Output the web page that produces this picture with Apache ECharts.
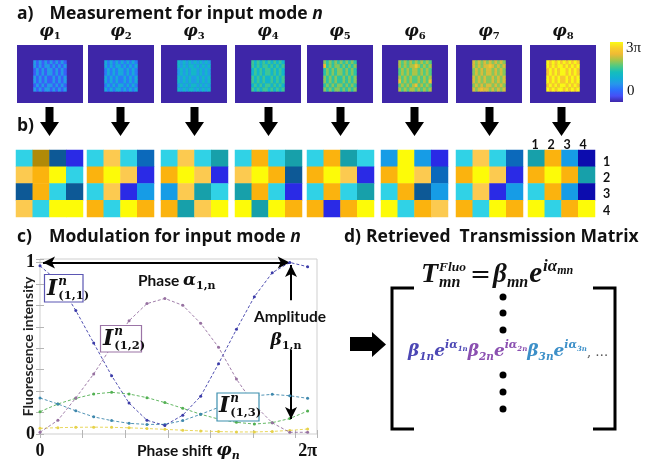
<!DOCTYPE html>
<html>
<head>
<meta charset="utf-8">
<script src="https://cdn.jsdelivr.net/npm/echarts@6/dist/echarts.min.js"></script>
<style>
  html, body { margin: 0; padding: 0; background: #fff; }
  #chart { width: 670px; height: 461px; }
</style>
</head>
<body>
<div id="chart"></div>
<script>
// ---------------- data ----------------
// a) SLM pattern for each phase step (levels in units of π, colour range 0..3π)
const phaseSteps = ['1', '2', '3', '4', '5', '6', '7', '8'];
const stripeLow  = [0.45, 0.70, 0.98, 1.30, 1.62, 1.80, 1.98, 2.60];
const stripeHigh = [0.95, 1.12, 1.35, 1.70, 1.98, 2.12, 2.30, 2.98];
const stripeMask = [
  '101010101010',
  '101011010101',
  '010101101010',
  '010101101010',
  '101010010101',
  '101010010101',
  '010101101010',
  '101011010101'
];
// bright spots: [step, column, row, level]
const patternSpots = [[4, 0, 1, 2.45], [5, 6, 1, 2.55], [5, 0, 5, 2.5], [5, 11, 5, 2.5], [5, 6, 6, 2.45], [6, 6, 1, 2.55], [6, 3, 7, 2.45]];

// b) retrieved 4x4 speckle frames (colour level per cell, row by row)
const speckleFrames = [
  [[6, 7, 2, 1], [8, 9, 10, 6], [2, 9, 6, 2], [8, 6, 10, 10]],
  [[6, 8, 6, 3], [9, 10, 8, 1], [6, 8, 1, 4], [9, 6, 10, 9]],
  [[6, 8, 6, 5], [9, 10, 8, 1], [4, 8, 5, 6], [9, 5, 8, 10]],
  [[6, 9, 6, 5], [8, 10, 9, 2], [5, 9, 6, 1], [10, 5, 10, 9]],
  [[6, 9, 5, 6], [9, 10, 8, 1], [6, 9, 6, 5], [9, 1, 9, 10]],
  [[4, 10, 4, 1], [9, 10, 8, 3], [6, 9, 2, 4], [10, 6, 9, 8]],
  [[6, 8, 6, 3], [9, 10, 8, 1], [6, 8, 1, 4], [9, 6, 10, 9]],
  [[5, 9, 4, 0], [9, 10, 9, 5], [6, 9, 4, 0], [10, 6, 9, 10]]
];
const speckleIndex = ['1', '2', '3', '4'];

// c) fluorescence intensity vs. phase shift
const phaseShift = [0, 0.42, 0.84, 1.26, 1.68, 2.09, 2.51, 2.93, 3.35, 3.77, 4.19, 4.61, 5.03, 5.45, 5.86, 6.28];
const intensity11 = [0.98, 0.89, 0.72, 0.53, 0.34, 0.18, 0.08, 0.05, 0.11, 0.22, 0.41, 0.61, 0.80, 0.94, 1.00, 0.975];
const intensity12 = [0.01, 0.08, 0.21, 0.35, 0.51, 0.66, 0.76, 0.79, 0.75, 0.645, 0.505, 0.32, 0.17, 0.065, 0.01, 0.01];
const intensity13 = [0.21, 0.175, 0.135, 0.10, 0.078, 0.062, 0.056, 0.056, 0.078, 0.115, 0.155, 0.198, 0.223, 0.231, 0.223, 0.208];
const intensity14 = [0.13, 0.175, 0.208, 0.233, 0.243, 0.233, 0.212, 0.183, 0.15, 0.115, 0.087, 0.068, 0.058, 0.066, 0.09, 0.134];
const intensity15 = [0.033, 0.037, 0.039, 0.040, 0.039, 0.036, 0.032, 0.027, 0.022, 0.018, 0.014, 0.012, 0.012, 0.015, 0.021, 0.029];

// ---------------- styles ----------------
const SANS = 'Lato, "Open Sans", sans-serif';
const HEAD = '"Open Sans", Lato, sans-serif';
const SERIF = '"DejaVu Serif", "Liberation Serif", serif';
const TSERIF = '"Liberation Serif", serif';
const parula = ['#3e26a8', '#4650f5', '#2c6ffd', '#2796eb', '#12b0d4', '#15bebb', '#51ca82', '#a7c548', '#efba35', '#f9cf2a', '#f9fb15'];
const speckleColors = ['#0c0cae', '#2a2ae6', '#0d5996', '#0b69bb', '#169ce6', '#17a0aa', '#30d2e6', '#b08a08', '#fcca50', '#fbb30e', '#fdfb08'];
const curveColors = ['#3b3ba8', '#9670a0', '#3f88ad', '#52b052', '#e6d24a'];

const boxLeft = [17, 88, 161, 235, 307, 382, 456, 530];
const frameLeft = [16, 87, 161, 235, 307, 381, 456, 528];

// ---------------- text layout helper ----------------
const ctx2d = document.createElement('canvas').getContext('2d');
function fontOf(t) {
  return (t.italic ? 'italic ' : '') + (t.weight || 'bold') + ' ' + t.size + 'px ' + (t.family || SERIF);
}
function typeset(x, base, tokens, align) {
  let cx = 0, gStart = 0, gW = 0;
  const placed = [];
  tokens.forEach(t => {
    ctx2d.font = fontOf(t);
    const w = ctx2d.measureText(t.text).width;
    let px;
    if (t.stack) { px = gStart; gW = Math.max(gW, w); cx = gStart + gW; }
    else { cx += (t.kern || 0); px = cx; gStart = cx; gW = w; cx += w; }
    placed.push({ t, px });
  });
  const x0 = align === 'center' ? x - cx / 2 : (align === 'right' ? x - cx : x);
  return placed.map(({ t, px }) => ({
    type: 'text', silent: true, z: 100,
    x: x0 + px, y: base - (t.rise || 0) - 0.33 * t.size,
    style: {
      text: t.text, font: fontOf(t), fill: t.color || '#111',
      textAlign: 'left', textVerticalAlign: 'middle', align: 'left', verticalAlign: 'middle'
    }
  }));
}

// ---------------- build grids / axes / series ----------------
const grids = [], xAxes = [], yAxes = [], series = [];
const hiddenCat = (n, gi, extra) => Object.assign({
  type: 'category', gridIndex: gi, show: false,
  data: Array.from({ length: n }, (_, i) => String(i))
}, extra || {});

// a) phase patterns
phaseSteps.forEach((s, k) => {
  grids.push({ left: boxLeft[k], top: 45, width: 66, height: 58, show: true, backgroundColor: parula[0], borderWidth: 0 });
  xAxes.push(hiddenCat(24, k));
  yAxes.push(hiddenCat(15, k, { inverse: true }));
  const cells = [];
  stripeMask.forEach((row, r) => {
    row.split('').forEach((m, c) => cells.push([c + 6, r + 4, m === '1' ? stripeHigh[k] : stripeLow[k]]));
  });
  patternSpots.filter(p => p[0] === k).forEach(([, c, r, v]) => {
    const cell = cells.find(e => e[0] === c + 6 && e[1] === r + 4);
    if (cell) cell[2] = v;
  });
  series.push({ type: 'heatmap', xAxisIndex: k, yAxisIndex: k, data: cells, silent: true, progressive: 0 });
});

// b) speckle frames
speckleFrames.forEach((frame, k) => {
  const gi = 8 + k;
  grids.push({ left: frameLeft[k], top: 150, width: 67, height: 67 });
  xAxes.push(Object.assign(hiddenCat(4, gi), { data: speckleIndex }));
  yAxes.push(Object.assign(hiddenCat(4, gi, { inverse: true }), { data: speckleIndex }));
  const cells = [];
  frame.forEach((row, r) => row.forEach((v, c) => cells.push([c, r, v])));
  series.push({ type: 'heatmap', xAxisIndex: gi, yAxisIndex: gi, data: cells, silent: true, progressive: 0 });
});

// c) modulation curves
const GC = 16;
grids.push({ left: 40, top: 259, width: 277, height: 175, show: true, borderColor: '#cfcfcf', borderWidth: 1, backgroundColor: '#fff' });
const tickStyle = { show: true, inside: true, length: 4, lineStyle: { color: '#b5b5b5', width: 1 } };
xAxes.push({
  type: 'value', gridIndex: GC, min: 0, max: 6.5, interval: 1,
  axisLine: { show: false }, splitLine: { show: false }, axisTick: tickStyle,
  axisLabel: {
    customValues: [0, 6.2832], margin: 8,
    formatter: v => (v < 0.01 ? '0' : '2π'),
    color: '#111', fontFamily: TSERIF, fontWeight: 'bold', fontSize: 18
  }
});
xAxes.push({
  type: 'value', gridIndex: GC, position: 'top', min: 0, max: 6.5, interval: 1,
  axisLine: { show: false }, splitLine: { show: false }, axisTick: tickStyle, axisLabel: { show: false }
});
yAxes.push({
  type: 'value', gridIndex: GC, min: 0, max: 1.02, interval: 0.125,
  axisLine: { show: false }, splitLine: { show: false }, axisTick: tickStyle,
  axisLabel: {
    margin: 5, color: '#111', fontFamily: TSERIF, fontWeight: 'bold', fontSize: 18,
    formatter: v => (Math.abs(v) < 1e-6 ? '0' : (Math.abs(v - 1) < 1e-6 ? '1' : ''))
  },
  name: 'Fluorescence intensity', nameLocation: 'middle', nameGap: 5, nameRotate: 90, nameMoveOverlap: false,
  nameTextStyle: { fontFamily: SANS, fontWeight: 'bold', fontSize: 14, color: '#222' }
});
yAxes.push({
  type: 'value', gridIndex: GC, position: 'right', min: 0, max: 1.02, interval: 0.125,
  axisLine: { show: false }, splitLine: { show: false }, axisTick: tickStyle, axisLabel: { show: false }
});

const curves = [intensity15, intensity14, intensity13, intensity12, intensity11];
const curveColorOrder = [curveColors[4], curveColors[3], curveColors[2], curveColors[1], curveColors[0]];
const peakIdx = intensity11.indexOf(Math.max(...intensity11));
curves.forEach((vals, i) => {
  const s = {
    type: 'line', xAxisIndex: GC, yAxisIndex: GC, silent: true, z: 3 + i,
    data: phaseShift.map((p, k) => [p, vals[k]]),
    symbol: 'circle', symbolSize: 3, showSymbol: true,
    lineStyle: { width: 0.9, type: [3, 2], color: curveColorOrder[i] },
    itemStyle: { color: curveColorOrder[i] }
  };
  if (i === curves.length - 1) {
    s.markLine = {
      silent: true, animation: false, symbol: ['none', 'none'], symbolSize: [9, 12],
      label: { show: false }, emphasis: { disabled: true },
      lineStyle: { color: '#000', width: 2, type: 'solid' },
      data: [
        [{ coord: [0.07, 1.0], symbol: 'arrow' }, { coord: [phaseShift[peakIdx], 1.0], symbol: 'arrow' }],
        [{ coord: [5.89, 0.78], symbol: 'none' }, { coord: [5.89, 0.985], symbol: 'arrow' }],
        [{ coord: [5.89, 0.49], symbol: 'none' }, { coord: [5.89, 0.088], symbol: 'arrow' }]
      ]
    };
  }
  series.push(s);
});

// ---------------- annotations ----------------
const g = [];
const TS = 17.5;
// panel titles
g.push(...typeset(17, 20, [
  { text: 'a)', size: TS, family: HEAD },
  { text: 'Measurement for input mode ', size: TS, family: HEAD, kern: 16 },
  { text: 'n', size: TS, family: HEAD, italic: true }
]));
g.push(...typeset(17, 132, [{ text: 'b)', size: TS, family: HEAD }]));
g.push(...typeset(17, 243, [
  { text: 'c)', size: TS, family: HEAD },
  { text: 'Modulation for input mode ', size: TS, family: HEAD, kern: 17 },
  { text: 'n', size: TS, family: HEAD, italic: true }
]));
g.push(...typeset(344, 243, [
  { text: 'd)', size: TS, family: HEAD },
  { text: 'Retrieved  Transmission Matrix', size: TS, family: HEAD, kern: 5 }
]));

// phase step labels, arrows
boxLeft.forEach((bx, k) => {
  const cx = bx + 33;
  g.push(...typeset(cx, 37, [
    { text: 'φ', size: 16, italic: true },
    { text: phaseSteps[k], size: 10, rise: -3 }
  ], 'center'));
  const ax = frameLeft[k] + 33.5;
  g.push({
    type: 'polygon', silent: true,
    shape: { points: [[ax - 4, 107], [ax + 4, 107], [ax + 4, 122], [ax + 9.5, 122], [ax, 136], [ax - 9.5, 122], [ax - 4, 122]] },
    style: { fill: '#000' }
  });
});

// colour bar
g.push({
  type: 'rect', silent: true, shape: { x: 610, y: 42, width: 13, height: 60 },
  style: { fill: new echarts.graphic.LinearGradient(0, 1, 0, 0, parula.map((c, i) => ({ offset: i / (parula.length - 1), color: c }))) }
});
g.push(...typeset(626, 53, [{ text: '3π', size: 15, weight: 'normal', family: TSERIF }]));
g.push(...typeset(627, 96, [{ text: '0', size: 15, weight: 'normal', family: TSERIF }]));

// speckle matrix indices
[535, 551, 567, 583].forEach((x, i) => g.push(...typeset(x, 149, [{ text: speckleIndex[i], size: 12.5, family: SANS }], 'center')));
[162, 178, 194, 211].forEach((y, i) => g.push(...typeset(603, y + 4, [{ text: speckleIndex[i], size: 12.5, family: SANS }])));

// curve labels
function curveTag(x, y, w, h, color, idx, ix, base) {
  g.push({ type: 'rect', silent: true, z: 90, shape: { x, y, width: w, height: h }, style: { fill: '#fff', stroke: color, lineWidth: 1.2 } });
  g.push(...typeset(ix, base, [
    { text: 'I', size: 22, italic: true },
    { text: 'n', size: 12, italic: true, rise: 11, kern: 1 },
    { text: '(' + idx + ')', size: 11.5, rise: -3, stack: true }
  ]));
}
curveTag(44.5, 274.5, 38.5, 27.5, '#5b56b3', '1,1', 47, 297);
curveTag(100.5, 325.5, 41, 26.5, '#9b74a6', '1,2', 103, 347);
curveTag(217, 393, 42, 28, '#3d8fae', '1,3', 219, 414);

g.push(...typeset(138, 286, [
  { text: 'Phase ', size: 15.5, family: SANS },
  { text: 'α', size: 17, italic: true },
  { text: '1,n', size: 11, rise: -4 }
]));
g.push(...typeset(290, 322, [{ text: 'Amplitude', size: 15.5, family: SANS }], 'center'));
g.push(...typeset(286, 346, [
  { text: 'β', size: 17, italic: true },
  { text: '1,n', size: 11, rise: -4 }
], 'center'));
g.push(...typeset(137, 456, [
  { text: 'Phase shift ', size: 15.5, family: SANS },
  { text: 'φ', size: 17, italic: true },
  { text: 'n', size: 11, italic: true, rise: -4 }
]));

// d) retrieved transmission matrix
g.push({
  type: 'polygon', silent: true,
  shape: { points: [[350, 337], [372, 337], [372, 332], [386, 344.5], [372, 357], [372, 351], [350, 351]] },
  style: { fill: '#000' }
});
g.push({ type: 'polyline', silent: true, shape: { points: [[414, 288], [392, 288], [392, 429], [414, 429]] }, style: { stroke: '#000', lineWidth: 3, fill: null } });
g.push({ type: 'polyline', silent: true, shape: { points: [[593, 288], [615, 288], [615, 429], [593, 429]] }, style: { stroke: '#000', lineWidth: 3, fill: null } });
[297, 313, 330, 375, 392, 409].forEach(y => g.push({ type: 'circle', silent: true, shape: { cx: 503, cy: y, r: 3.5 }, style: { fill: '#000' } }));

g.push(...typeset(421, 284, [
  { text: 'T', size: 28, italic: true, family: TSERIF },
  { text: 'Fluo', size: 13.5, italic: true, rise: 12, family: TSERIF, kern: 1 },
  { text: 'mn', size: 16, italic: true, rise: -4, stack: true, family: TSERIF },
  { text: '=', size: 25, weight: 'normal', kern: 4 },
  { text: 'β', size: 27, italic: true, kern: 2, family: TSERIF },
  { text: 'mn', size: 16, italic: true, rise: -4, family: TSERIF },
  { text: 'e', size: 29, italic: true, kern: 1, family: TSERIF },
  { text: 'iα', size: 17, italic: true, rise: 12, kern: 1, family: TSERIF },
  { text: 'mn', size: 12, italic: true, rise: 9, family: TSERIF }
]));

const rowTokens = [];
[['1', '#4b46b4'], ['2', '#8a4fb0'], ['3', '#3c8fc8']].forEach(([m, col]) => {
  rowTokens.push(
    { text: 'β', size: 17, italic: true, color: col },
    { text: m + 'n', size: 10.5, italic: true, rise: -4, color: col },
    { text: 'e', size: 17, italic: true, color: col },
    { text: 'iα', size: 11, italic: true, rise: 8, color: col },
    { text: m + 'n', size: 7, italic: true, rise: 6, color: col }
  );
});
rowTokens.push({ text: ', …', size: 13, weight: 'normal', color: '#555' });
g.push(...typeset(408, 357, rowTokens));

// ---------------- render ----------------
const chart = echarts.init(document.getElementById('chart'), null, { renderer: 'canvas' });
chart.setOption({
  animation: false,
  backgroundColor: '#ffffff',
  grid: grids,
  xAxis: xAxes,
  yAxis: yAxes,
  visualMap: [
    { type: 'continuous', show: false, min: 0, max: 3, dimension: 2, seriesIndex: [0, 1, 2, 3, 4, 5, 6, 7], inRange: { color: parula } },
    { type: 'piecewise', show: false, dimension: 2, seriesIndex: [8, 9, 10, 11, 12, 13, 14, 15],
      pieces: speckleColors.map((c, i) => ({ value: i, color: c })) }
  ],
  series: series,
  graphic: g
});
</script>
</body>
</html>
